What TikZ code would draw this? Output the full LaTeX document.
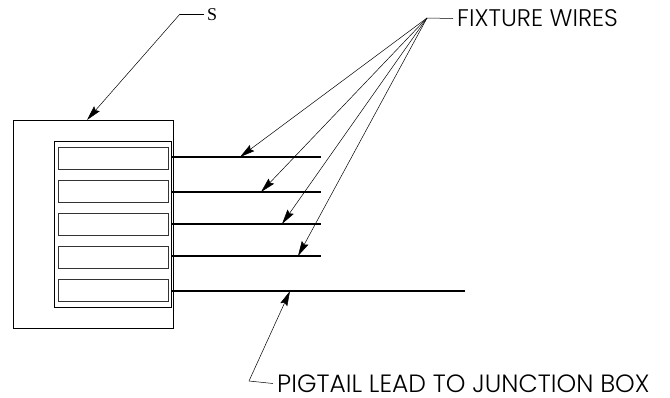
\documentclass[tikz,border=0pt]{standalone}
\usepackage{fontspec}
\setmainfont{Poppins Light}
\newfontfamily\serifface{Liberation Serif}
\usetikzlibrary{arrows.meta}
\tikzset{
    housing/.style={draw, line width=0.8pt, minimum width=#1, inner sep=0pt, outer sep=0pt},
    slotbox/.style={draw=black!80, line width=0.9pt, minimum width=110pt, minimum height=22pt, inner sep=0pt},
    wire/.style={line width=1.3pt},
    leader/.style={line width=0.5pt},
    pointer/.style={line width=0.5pt, -{Stealth[length=15pt, width=7.5pt, inset=2pt]}},
    callout/.style={anchor=west, inner sep=0pt}
}
\begin{document}
\begin{tikzpicture}[x=1pt, y=-1pt]
\useasboundingbox (0,0) rectangle (670,397);

\node[housing=160pt, minimum height=208pt] (cover) at (93,224) {};
\node[housing=117pt, minimum height=166pt] (plate) at (112.5,224) {};

% terminal slots
\foreach \i/\y in {1/158, 2/191, 3/224.5, 4/257.5, 5/290} {
    \node[slotbox] (slot\i) at (113,\y) {};
}

% wires
\foreach \i/\y/\xend/\xtip in {1/157/321/240, 2/192/321/261, 3/224/321/282, 4/256/321/298, 5/291/465/290} {
    \coordinate (start\i) at (172,\y);
    \coordinate (end\i) at (\xend,\y);
    \coordinate (tip\i) at (\xtip,\y);
    \draw[wire] (start\i) -- (end\i);
}

% callouts
\node[anchor=west, inner sep=0pt, font=\serifface\fontsize{18}{18}\selectfont] (labelS) at (207,15) {S};
\coordinate (elbowS) at (180,14);
\coordinate (tipS) at (87,120);
\draw[leader] (labelS.west |- elbowS) ++(-3,0) -- (elbowS);
\draw[pointer] (elbowS) -- (tipS);

\node[callout, font=\fontsize{24}{24}\selectfont] (fixture) at (457,18.5) {FIXTURE WIRES};
\coordinate (hub) at (427,18);
\draw[leader] ([xshift=-4pt]fixture.west) -- (hub);
\foreach \i in {1,...,4} {
    \draw[pointer] (hub) -- (tip\i);
}

\node[callout, font=\fontsize{25}{25}\selectfont] (pigtail) at (277,383.5) {PIGTAIL LEAD TO JUNCTION BOX};
\coordinate (elbowP) at (249,381);
\draw[leader] ([xshift=-4pt]pigtail.west) -- (elbowP);
\draw[pointer] (elbowP) -- (tip5);
\end{tikzpicture}
\end{document}
